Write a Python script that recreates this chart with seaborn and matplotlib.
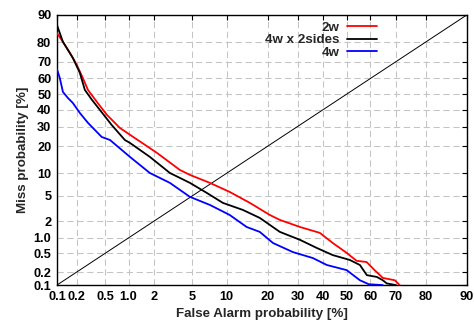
#!/usr/bin/env python

# DET curves (miss vs false alarm) on normal-deviate axes

from statistics import NormalDist

import numpy as np
import pandas as pd
import seaborn as sns
import matplotlib.pyplot as plt
from matplotlib.ticker import NullLocator

# values, in percent
fa_2w = [0.1, 0.124, 0.158, 0.20, 0.245, 0.29, 0.386, 0.53, 0.78, 1.19, 2.15, 3.76, 4.73,
         7.23, 10.6, 15.1, 20.6, 23.8, 30.9, 38.7, 44.1, 50.0, 54.2, 58.4, 61.7, 65.0,
         69.6, 71.4]
miss_2w = [83.9, 80.1, 74.8, 68.2, 60.3, 52.7, 45.0, 36.8, 29.2, 23.9, 17.1, 11.0, 9.56,
           7.55, 5.68, 3.92, 2.53, 2.09, 1.58, 1.24, 0.80, 0.51, 0.35, 0.33, 0.22, 0.147,
           0.13, 0.1]

fa_4wx2 = [0.1, 0.124, 0.175, 0.222, 0.262, 0.33, 0.425, 0.61, 0.90, 1.04, 1.79, 2.97,
           4.73, 6.80, 9.34, 13.4, 17.7, 23.8, 30.9, 37.5, 44.1, 51.3, 55.6, 58.5, 62.6,
           65.0, 66.5, 70.0]
miss_4wx2 = [86.9, 80.1, 72.1, 63.4, 52.7, 46.3, 39.9, 30.9, 22.9, 21.5, 15.5, 10.1,
             7.55, 5.49, 3.92, 3.05, 2.26, 1.29, 0.92, 0.64, 0.46, 0.365, 0.285, 0.17,
             0.155, 0.13, 0.11, 0.1]

fa_4w = [0.1, 0.111, 0.124, 0.147, 0.175, 0.222, 0.29, 0.45, 0.58, 1.04, 1.79, 2.97,
         4.73, 7.23, 10.6, 14.3, 17.7, 21.6, 28.3, 35.9, 41.6, 50.0, 55.6, 59.3, 65.0]
miss_4w = [65.8, 60.3, 51.4, 47.6, 44.3, 38.0, 32.1, 24.4, 22.9, 15.5, 10.1, 7.55, 4.82,
           3.65, 2.53, 1.58, 1.29, 0.80, 0.53, 0.40, 0.285, 0.22, 0.13, 0.105, 0.1]

systems = ['2w', '4w x 2sides', '4w']
colors = ['#ff0000', '#000000', '#0000ff']
ticks = [0.1, 0.2, 0.5, 1, 2, 5, 10, 20, 30, 40, 50, 60, 70, 80, 90]
tick_labels = ['0.1', '0.2', '0.5', '1.0', '2', '5', '10', '20', '30', '40', '50',
               '60', '70', '80', '90']

df = pd.concat([
    pd.DataFrame({'fa': fa_2w, 'miss': miss_2w, 'system': '2w'}),
    pd.DataFrame({'fa': fa_4wx2, 'miss': miss_4wx2, 'system': '4w x 2sides'}),
    pd.DataFrame({'fa': fa_4w, 'miss': miss_4w, 'system': '4w'}),
], ignore_index=True)

_nd = NormalDist()
_ppf = np.vectorize(_nd.inv_cdf, otypes=[float])
_cdf = np.vectorize(_nd.cdf, otypes=[float])


def probit(p):
    p = np.clip(np.asarray(p, dtype=float) / 100.0, 1e-9, 1 - 1e-9)
    return _ppf(p)


def inv_probit(z):
    z = np.clip(np.asarray(z, dtype=float), -30, 30)
    return _cdf(z) * 100.0


sns.set_theme(style='white')
plt.rcParams['font.family'] = ['Liberation Sans', 'DejaVu Sans']
plt.rcParams['font.weight'] = 'bold'

fig, ax = plt.subplots(figsize=(4.74, 3.24), dpi=100)
fig.subplots_adjust(left=0.120, right=0.985, bottom=0.120, top=0.954)

ax.plot([0.1, 90], [0.1, 90], color='black', linewidth=0.7, zorder=2)
sns.lineplot(data=df, x='fa', y='miss', hue='system', hue_order=systems,
             palette=colors, estimator=None, sort=False, linewidth=1.3, ax=ax, zorder=3)

for axis_scale in (ax.set_xscale, ax.set_yscale):
    axis_scale('function', functions=(probit, inv_probit))
ax.set_xlim(0.1, 90)
ax.set_ylim(0.1, 90)
ax.set_xticks(ticks, tick_labels)
ax.set_yticks(ticks, tick_labels)
ax.xaxis.set_minor_locator(NullLocator())
ax.yaxis.set_minor_locator(NullLocator())

ax.grid(True, color='#c4c4c4', linestyle=(0, (6, 3.5)), linewidth=0.75)
ax.set_axisbelow(True)
ax.tick_params(direction='in', top=True, right=True, length=3.5, width=0.8,
               labelsize=9.2, pad=4, colors='black')
for s in ax.spines.values():
    s.set_color('black')
    s.set_linewidth(1.0)

ax.set_xlabel('False Alarm probability [%]', fontsize=9.6, fontweight='bold', labelpad=4)
ax.set_ylabel('Miss probability [%]', fontsize=9.6, fontweight='bold', labelpad=3)

handles, labels = ax.get_legend_handles_labels()
keep = [(h, l) for h, l in zip(handles, labels) if l in systems]
ax.legend([h for h, _ in keep], [l for _, l in keep], loc='upper right',
          bbox_to_anchor=(0.78, 0.975), frameon=False, markerfirst=False,
          handlelength=2.25, handletextpad=0.55, labelspacing=0.0, borderpad=0,
          borderaxespad=0, prop=dict(weight='bold', size=9.6))

plt.savefig('out.png', dpi=100)
plt.close()
